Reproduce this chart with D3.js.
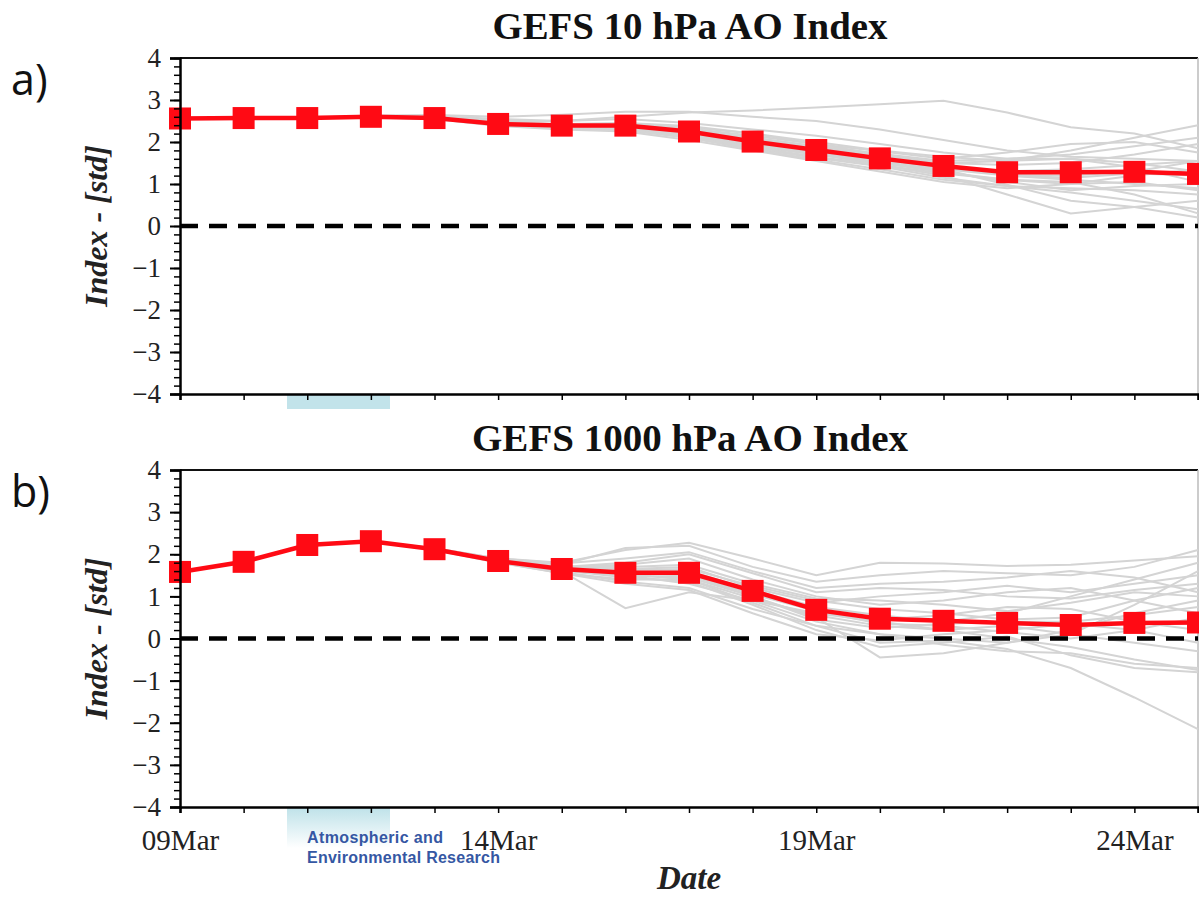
<!DOCTYPE html>
<html>
<head>
<meta charset="utf-8">
<script src="https://cdn.jsdelivr.net/npm/d3@7"></script>
<style>
  body { margin: 0; background: #fff; }
  svg { display: block; }
</style>
</head>
<body>
<div id="chart"></div>
<script>
// forecast days
var days = ["2020-03-09","2020-03-10","2020-03-11","2020-03-12","2020-03-13","2020-03-14","2020-03-15","2020-03-16",
            "2020-03-17","2020-03-18","2020-03-19","2020-03-20","2020-03-21","2020-03-22","2020-03-23","2020-03-24","2020-03-25"];
var xTickLabels = ["2020-03-09","2020-03-14","2020-03-19","2020-03-24"];
var yTicks = [4,3,2,1,0,-1,-2,-3,-4];

// ensemble mean (red)
var mean10 = [2.56,2.57,2.57,2.60,2.57,2.43,2.39,2.39,2.25,2.01,1.81,1.61,1.43,1.28,1.28,1.29,1.24];
var mean1000 = [1.58,1.82,2.22,2.31,2.12,1.84,1.65,1.56,1.56,1.13,0.68,0.47,0.42,0.37,0.32,0.37,0.38];

// ensemble members (grey)
var members10 = [
  [2.56,2.57,2.58,2.62,2.62,2.55,2.50,2.60,2.70,2.75,2.82,2.90,2.98,2.70,2.35,2.20,1.85],
  [2.56,2.58,2.58,2.63,2.64,2.60,2.65,2.72,2.72,2.60,2.50,2.30,2.05,1.80,1.65,1.60,1.55],
  [2.56,2.57,2.57,2.61,2.60,2.50,2.50,2.55,2.45,2.30,2.15,1.95,1.75,1.60,1.70,1.90,2.10],
  [2.56,2.57,2.57,2.60,2.58,2.45,2.42,2.42,2.30,2.10,1.90,1.70,1.50,1.55,1.80,2.10,2.40],
  [2.56,2.56,2.57,2.60,2.56,2.42,2.37,2.33,2.15,1.90,1.70,1.50,1.35,1.20,1.10,1.00,0.90],
  [2.55,2.56,2.56,2.59,2.55,2.40,2.33,2.28,2.10,1.85,1.62,1.42,1.15,0.95,0.80,0.60,0.40],
  [2.56,2.57,2.57,2.60,2.57,2.44,2.38,2.35,2.20,2.00,1.75,1.55,1.30,1.05,0.85,0.95,1.00],
  [2.55,2.56,2.56,2.59,2.55,2.38,2.30,2.25,2.05,1.80,1.55,1.30,1.05,0.90,1.00,1.20,1.35],
  [2.56,2.57,2.58,2.61,2.59,2.47,2.42,2.44,2.35,2.20,2.00,1.80,1.65,1.55,1.60,1.50,1.30],
  [2.56,2.57,2.57,2.60,2.57,2.43,2.37,2.35,2.18,1.95,1.72,1.45,1.20,0.75,0.30,0.45,0.60],
  [2.56,2.57,2.57,2.60,2.57,2.43,2.40,2.38,2.25,2.05,1.85,1.65,1.40,1.30,1.35,1.45,1.55],
  [2.56,2.57,2.57,2.60,2.57,2.44,2.40,2.40,2.28,2.08,1.88,1.68,1.50,1.45,1.50,1.70,1.95],
  [2.55,2.56,2.56,2.59,2.56,2.41,2.35,2.32,2.12,1.88,1.65,1.45,1.25,1.10,1.05,0.75,0.30],
  [2.56,2.57,2.57,2.60,2.58,2.46,2.43,2.45,2.38,2.20,1.95,1.70,1.45,1.20,1.15,1.25,1.20],
  [2.56,2.57,2.57,2.60,2.57,2.42,2.36,2.30,2.10,1.82,1.58,1.35,1.10,0.95,0.90,0.85,0.75],
  [2.56,2.57,2.57,2.60,2.57,2.44,2.40,2.40,2.30,2.10,1.90,1.72,1.55,1.60,1.60,1.40,1.05],
  [2.56,2.57,2.57,2.60,2.57,2.43,2.39,2.37,2.22,1.98,1.78,1.58,1.38,1.22,1.20,1.30,1.55],
  [2.56,2.57,2.57,2.60,2.57,2.42,2.36,2.33,2.15,1.92,1.70,1.52,1.35,0.98,0.60,0.45,0.20],
  [2.56,2.57,2.57,2.61,2.58,2.45,2.40,2.40,2.32,2.15,1.95,1.78,1.60,1.75,1.95,2.00,1.75],
  [2.56,2.57,2.57,2.60,2.57,2.43,2.38,2.36,2.20,1.95,1.72,1.50,1.28,1.10,1.00,1.05,0.85]
];
var members1000 = [
  [1.58,1.82,2.22,2.31,2.14,1.90,1.80,2.10,2.27,1.90,1.50,1.80,1.78,1.72,1.75,1.85,1.95],
  [1.58,1.82,2.22,2.31,2.13,1.88,1.75,2.15,2.20,1.70,1.35,1.50,1.60,1.55,1.50,1.70,2.10],
  [1.58,1.82,2.22,2.31,2.12,1.84,1.60,0.72,1.10,0.90,0.60,0.40,0.20,0.00,-0.20,-0.50,-0.75],
  [1.58,1.82,2.22,2.31,2.10,1.80,1.55,1.40,1.40,0.85,0.30,-0.10,-0.05,-0.25,-0.70,-1.40,-2.15],
  [1.58,1.82,2.22,2.31,2.12,1.85,1.70,1.75,1.90,1.40,1.00,0.80,0.90,1.10,1.20,0.90,0.60],
  [1.58,1.82,2.22,2.31,2.11,1.82,1.60,1.50,1.30,0.90,0.40,0.10,0.00,-0.10,0.10,0.80,1.60],
  [1.58,1.82,2.22,2.31,2.12,1.83,1.62,1.50,1.45,1.00,0.50,-0.45,-0.35,-0.10,0.20,0.60,0.90],
  [1.58,1.82,2.22,2.31,2.13,1.86,1.68,1.65,1.70,1.20,0.85,1.00,1.10,1.25,1.10,1.30,1.50],
  [1.58,1.82,2.22,2.31,2.12,1.84,1.62,1.45,1.35,0.80,0.20,-0.20,-0.10,0.05,-0.40,-0.70,-0.80],
  [1.58,1.82,2.22,2.31,2.12,1.85,1.66,1.60,1.60,1.15,0.75,0.55,0.40,0.60,1.00,1.40,1.80],
  [1.58,1.82,2.22,2.31,2.13,1.87,1.70,1.80,2.00,1.55,1.10,1.20,1.15,1.00,0.95,1.15,1.30],
  [1.58,1.82,2.22,2.31,2.11,1.82,1.58,1.35,1.20,0.70,0.30,0.10,-0.15,-0.30,-0.35,-0.60,-0.70],
  [1.58,1.82,2.22,2.31,2.12,1.84,1.64,1.55,1.50,1.05,0.65,0.45,0.55,0.75,0.70,0.40,0.20],
  [1.58,1.82,2.22,2.31,2.12,1.85,1.67,1.62,1.65,1.25,0.90,0.70,0.60,0.45,0.50,0.90,1.20],
  [1.58,1.82,2.22,2.31,2.12,1.83,1.63,1.52,1.40,0.95,0.55,0.30,0.20,0.30,0.10,-0.10,-0.30],
  [1.58,1.82,2.22,2.31,2.14,1.90,1.78,1.90,2.05,1.60,1.20,1.30,1.35,1.45,1.60,1.45,1.10],
  [1.58,1.82,2.22,2.31,2.12,1.85,1.65,1.58,1.55,1.10,0.65,0.35,0.30,0.15,0.00,0.20,0.50],
  [1.58,1.82,2.22,2.31,2.11,1.81,1.55,1.30,1.15,0.60,0.10,-0.05,0.10,0.20,0.35,0.20,-0.10],
  [1.58,1.82,2.22,2.31,2.13,1.86,1.70,1.70,1.75,1.30,0.95,0.90,0.80,0.65,0.85,1.10,1.00],
  [1.58,1.82,2.22,2.31,2.12,1.84,1.63,1.55,1.50,1.00,0.45,0.25,0.35,0.40,0.40,0.55,0.75]
];

var panels = [
  {title: "GEFS 10 hPa AO Index", tag: "a)", mean: mean10, members: members10, top: 58, bottom: 394, showDates: false},
  {title: "GEFS 1000 hPa AO Index", tag: "b)", mean: mean1000, members: members1000, top: 470, bottom: 807, showDates: true}
];

var width = 1199, height = 897;
var left = 180, right = 1198;
var parseDay = d3.utcParse("%Y-%m-%d");
var dates = days.map(parseDay);

var svg = d3.select("#chart").append("svg").attr("width", width).attr("height", height);

var x = d3.scaleUtc().domain([dates[0], dates[dates.length - 1]]).range([left, right]);
var serif = "'Liberation Serif', 'DejaVu Serif', serif";

panels.forEach(function(p, pi){
    var y = d3.scaleLinear().domain([-4, 4]).range([p.bottom, p.top]);
    var g = svg.append("g");

    // logo strip (sits under the axis)
    if(!p.showDates){
        g.append("rect").attr("x", 287).attr("y", p.bottom + 1).attr("width", 103).attr("height", 14)
            .attr("fill", "#c2e3ea");
    }

    // frame top / right
    g.append("line").attr("x1", left).attr("x2", right).attr("y1", p.top).attr("y2", p.top)
        .attr("stroke", "#111").attr("stroke-width", 2);
    g.append("line").attr("x1", right).attr("x2", right).attr("y1", p.top).attr("y2", p.bottom)
        .attr("stroke", "#bbb").attr("stroke-width", 1.5);

    var line = d3.line().x(function(d, i){ return x(dates[i]); }).y(function(d){ return y(d); });

    g.append("g").selectAll("path").data(p.members).enter().append("path")
        .attr("d", line).attr("fill", "none").attr("stroke", "#d4d4d4").attr("stroke-width", 2);

    // zero line
    g.append("line").attr("x1", left).attr("x2", right).attr("y1", y(0)).attr("y2", y(0))
        .attr("stroke", "#000").attr("stroke-width", 4.5).attr("stroke-dasharray", "18,11");

    g.append("path").datum(p.mean).attr("d", line).attr("fill", "none")
        .attr("stroke", "#ff0a14").attr("stroke-width", 4.5);
    g.append("g").selectAll("rect").data(p.mean).enter().append("rect")
        .attr("x", function(d, i){ return x(dates[i]) - 11; })
        .attr("y", function(d){ return y(d) - 11; })
        .attr("width", 22).attr("height", 22).attr("fill", "#ff0a14");

    // y axis, major and minor ticks
    var yMinor = d3.range(-40, 41, 2).map(function(v){ return v / 10; });
    g.append("g").attr("transform", "translate(" + left + ",0)")
        .call(d3.axisLeft(y).tickValues(yMinor).tickSize(6).tickFormat(""))
        .call(function(a){ a.select(".domain").remove(); a.selectAll("line").attr("stroke-width", 1.5); });
    var ya = g.append("g").attr("transform", "translate(" + left + ",0)")
        .call(d3.axisLeft(y).tickValues(yTicks).tickSize(10).tickPadding(9)
              .tickFormat(function(d){ return d < 0 ? "\u2212" + Math.abs(d) : d; }));
    ya.select(".domain").attr("stroke-width", 2.5);
    ya.selectAll("line").attr("stroke-width", 2);
    ya.selectAll("text").attr("font-family", serif).attr("font-size", 27).attr("fill", "#222");

    // x axis
    var xa = g.append("g").attr("transform", "translate(0," + p.bottom + ")")
        .call(d3.axisBottom(x).tickValues(dates).tickSize(6).tickPadding(16)
              .tickFormat(function(d){
                  return (p.showDates && xTickLabels.indexOf(d3.utcFormat("%Y-%m-%d")(d)) >= 0) ? d3.utcFormat("%d%b")(d) : "";
              }));
    xa.select(".domain").attr("stroke-width", 2.5);
    xa.selectAll("line").attr("stroke-width", 1.5);
    xa.selectAll("text").attr("font-family", serif).attr("font-size", 29).attr("fill", "#222");

    // titles
    svg.append("text").attr("x", 690).attr("y", p.top - 19).attr("text-anchor", "middle")
        .attr("font-family", serif).attr("font-weight", "bold").attr("font-size", 37).attr("fill", "#111")
        .attr("textLength", pi === 0 ? 395 : 436).attr("lengthAdjust", "spacingAndGlyphs")
        .text(p.title);
    svg.append("text").attr("x", 11).attr("y", p.top + 37)
        .attr("font-family", "'Open Sans', 'Liberation Sans', sans-serif").attr("font-size", 43).attr("fill", "#111")
        .text(p.tag);
    svg.append("text").attr("transform", "translate(107," + ((p.top + p.bottom) / 2) + ") rotate(-90)")
        .attr("text-anchor", "middle").attr("font-family", serif).attr("font-weight", "bold")
        .attr("font-style", "italic").attr("font-size", 32).attr("fill", "#222")
        .text("Index - [std]");

    if(p.showDates){
        var grad = svg.append("defs").append("linearGradient").attr("id", "logoGrad")
            .attr("x1", 0).attr("x2", 0).attr("y1", 0).attr("y2", 1);
        grad.append("stop").attr("offset", "0%").attr("stop-color", "#bfe2e9");
        grad.append("stop").attr("offset", "100%").attr("stop-color", "#ffffff");
        svg.insert("rect", ":first-child").attr("x", 287).attr("y", p.bottom + 1).attr("width", 103).attr("height", 40)
            .attr("fill", "url(#logoGrad)");
        var logo = svg.append("text").attr("font-family", "'Liberation Sans', sans-serif").attr("font-weight", "bold")
            .attr("font-size", 16).attr("fill", "#3557a3");
        logo.append("tspan").attr("x", 307).attr("y", 843).attr("textLength", 136).text("Atmospheric and");
        logo.append("tspan").attr("x", 307).attr("y", 863).attr("textLength", 193).text("Environmental Research");
    }
});

svg.append("text").attr("x", 689).attr("y", 889).attr("text-anchor", "middle")
    .attr("font-family", serif).attr("font-weight", "bold").attr("font-style", "italic")
    .attr("font-size", 33).attr("fill", "#222").text("Date");
</script>
</body>
</html>
